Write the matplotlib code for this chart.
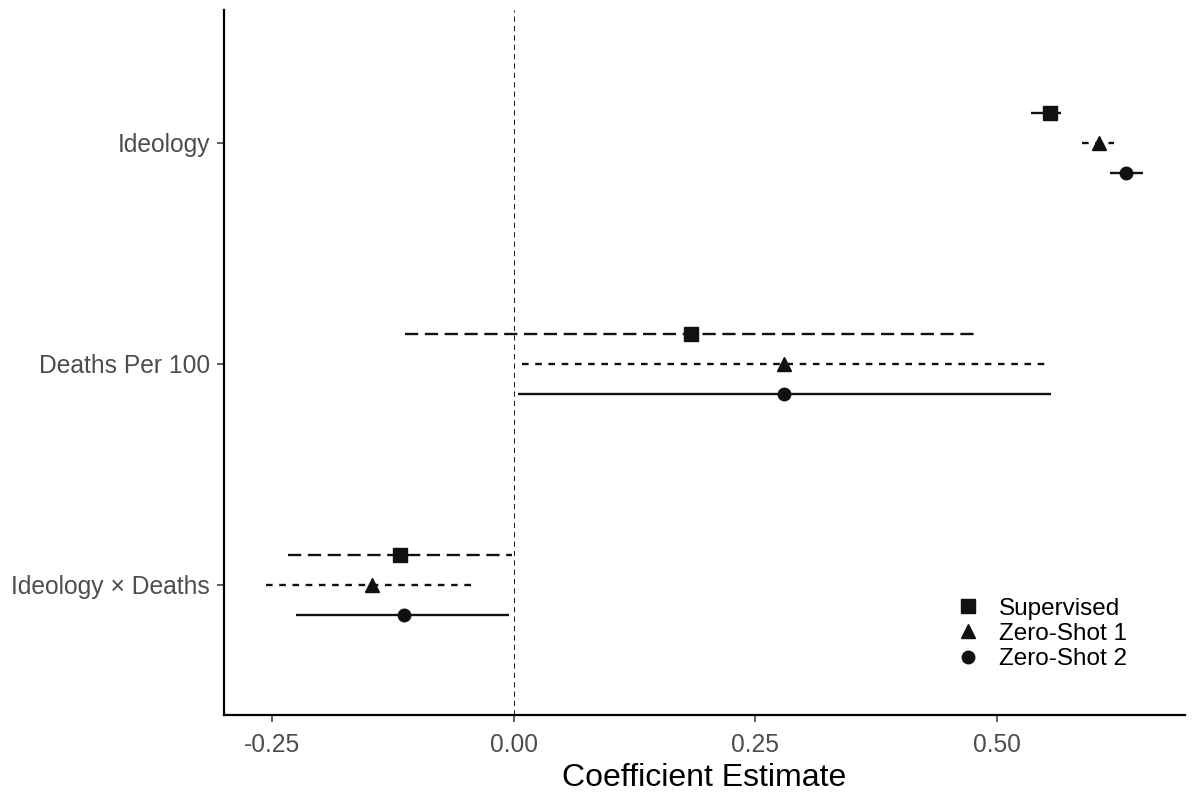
import matplotlib.pyplot as plt
import numpy as np

plt.rcParams['font.family'] = ['Liberation Sans', 'DejaVu Sans']

# terms, bottom to top (ggplot order)
terms = ['Ideology \u00d7 Deaths', 'Deaths Per 100', 'Ideology']
models = ['Supervised', 'Zero-Shot 1', 'Zero-Shot 2']

# estimates and 95% CI per model, in the order of terms
est_sup = [-0.118, 0.183, 0.555]
lo_sup = [-0.234, -0.113, 0.536]
hi_sup = [-0.002, 0.477, 0.567]

est_zs1 = [-0.147, 0.280, 0.606]
lo_zs1 = [-0.257, 0.009, 0.588]
hi_zs1 = [-0.040, 0.550, 0.621]

est_zs2 = [-0.114, 0.280, 0.634]
lo_zs2 = [-0.226, 0.004, 0.617]
hi_zs2 = [-0.005, 0.556, 0.652]

series = [
    (est_sup, lo_sup, hi_sup, 's', 9.5, (0, (5.6, 2.8)), 0.136),
    (est_zs1, lo_zs1, hi_zs1, '^', 10.5, (0, (2.8, 2.8)), 0.0),
    (est_zs2, lo_zs2, hi_zs2, 'o', 9, '-', -0.136),
]

fig = plt.figure(figsize=(11.93, 7.95), dpi=100)
ax = fig.add_axes([0.1878, 0.1006, 0.8055, 0.8868])

ypos = np.arange(1, len(terms) + 1)
ax.axvline(0, color='#222222', lw=0.75, linestyle=(0, (5, 4)), zorder=1)

handles = []
for (est, lo, hi, mk, ms, ls, off), name in zip(series, models):
    y = ypos + off
    ax.hlines(y, lo, hi, colors='#111111', linestyles=ls, lw=1.7, zorder=2)
    h, = ax.plot(est, y, linestyle='none', marker=mk, markersize=ms,
                 color='#111111', zorder=3, label=name)
    handles.append(h)

ax.set_yticks(ypos)
ax.set_yticklabels(terms)
ax.set_xticks([-0.25, 0.0, 0.25, 0.5])
ax.set_xticklabels(['-0.25', '0.00', '0.25', '0.50'])
ax.set_xlim(-0.300, 0.695)
ax.set_ylim(0.41, 3.6)

ax.set_xlabel('Coefficient Estimate', fontsize=23, color='black', labelpad=4)
ax.tick_params(axis='both', labelsize=17.7, colors='#333333', labelcolor='#4d4d4d',
               length=5, width=1.1)
ax.tick_params(axis='x', pad=8)
ax.tick_params(axis='y', pad=5)
for s in ['top', 'right']:
    ax.spines[s].set_visible(False)
for s in ['left', 'bottom']:
    ax.spines[s].set_linewidth(1.6)
    ax.spines[s].set_color('black')

ax.legend(handles=handles, loc='center left', bbox_to_anchor=(0.762, 0.115),
          frameon=False, fontsize=17.5, handlelength=1.0, handletextpad=0.75,
          labelspacing=0.14, borderpad=0, borderaxespad=0)

fig.savefig('out.png', dpi=100)
